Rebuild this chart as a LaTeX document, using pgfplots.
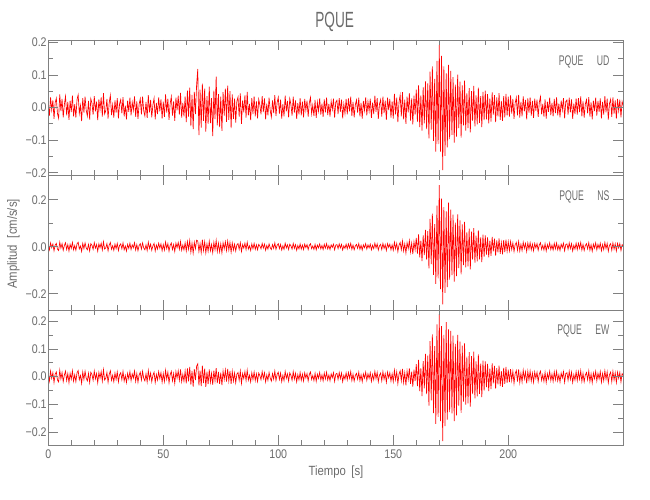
\documentclass[border=0pt]{standalone}
\usepackage{pgfplots}
\pgfplotsset{compat=1.18}
\usepackage{pgfplotstable}
\usepackage{fontspec}
\setmainfont[FakeStretch=0.85]{Liberation Sans}
\newfontfamily\narrowfont[FakeStretch=0.62]{Liberation Sans}
\definecolor{txt}{gray}{0.42}
\definecolor{axc}{gray}{0.5}

% UD component, one sample every 0.5 s from 0 s to 250 s
\pgfplotstableread[header=false,row sep=\\]{
0.012\\ -0.025\\ 0.031\\ -0.008\\ 0.022\\ -0.035\\ 0.015\\ 0.028\\ -0.019\\ -0.033\\ 0.040\\ -0.011\\ 0.026\\ -0.030\\ 0.009\\ 0.034\\ -0.024\\ 0.017\\ -0.038\\ 0.021\\
-0.014\\ 0.036\\ -0.027\\ 0.010\\ -0.031\\ 0.024\\ 0.039\\ -0.018\\ 0.006\\ -0.042\\ 0.029\\ -0.016\\ 0.033\\ -0.009\\ -0.026\\ 0.020\\ -0.037\\ 0.027\\ 0.013\\ -0.022\\
0.035\\ -0.012\\ 0.018\\ -0.039\\ 0.025\\ -0.007\\ 0.031\\ -0.028\\ 0.044\\ -0.020\\ -0.010\\ 0.026\\ -0.034\\ 0.015\\ 0.037\\ -0.023\\ 0.008\\ -0.031\\ 0.022\\ -0.016\\
0.029\\ -0.033\\ 0.011\\ 0.024\\ -0.018\\ 0.032\\ -0.027\\ 0.006\\ -0.036\\ 0.021\\ -0.013\\ 0.030\\ -0.024\\ 0.016\\ -0.008\\ 0.034\\ -0.029\\ 0.019\\ -0.035\\ 0.010\\
0.027\\ -0.021\\ 0.033\\ -0.010\\ -0.026\\ 0.017\\ -0.032\\ 0.038\\ -0.015\\ 0.023\\ -0.030\\ 0.008\\ 0.028\\ -0.036\\ 0.014\\ -0.020\\ 0.031\\ -0.012\\ 0.025\\ -0.034\\
0.018\\ -0.029\\ 0.040\\ -0.016\\ 0.027\\ -0.038\\ 0.012\\ 0.033\\ -0.025\\ 0.019\\ -0.041\\ 0.030\\ -0.009\\ 0.036\\ -0.022\\ 0.045\\ -0.031\\ 0.014\\ -0.027\\ 0.034\\
-0.045\\ 0.052\\ -0.028\\ 0.061\\ -0.057\\ 0.039\\ -0.066\\ 0.048\\ -0.020\\ 0.070\\ 0.118\\ -0.085\\ 0.055\\ -0.062\\ 0.073\\ -0.041\\ 0.058\\ -0.074\\ 0.035\\ -0.050\\
0.064\\ -0.048\\ 0.029\\ -0.088\\ 0.052\\ -0.036\\ 0.095\\ -0.055\\ 0.041\\ -0.060\\ 0.033\\ -0.072\\ 0.047\\ -0.025\\ 0.058\\ -0.044\\ 0.067\\ -0.038\\ 0.050\\ -0.063\\
0.040\\ -0.035\\ 0.027\\ -0.046\\ 0.019\\ 0.032\\ -0.028\\ 0.043\\ -0.050\\ 0.022\\ -0.015\\ 0.037\\ -0.031\\ 0.048\\ -0.024\\ 0.011\\ -0.039\\ 0.029\\ -0.020\\ 0.034\\
-0.027\\ 0.019\\ -0.033\\ 0.025\\ 0.008\\ -0.021\\ 0.035\\ -0.014\\ 0.028\\ -0.036\\ 0.012\\ -0.024\\ 0.030\\ -0.009\\ -0.029\\ 0.022\\ -0.017\\ 0.038\\ -0.026\\ 0.015\\
0.031\\ -0.019\\ 0.024\\ -0.034\\ 0.010\\ -0.027\\ 0.036\\ -0.012\\ 0.020\\ -0.030\\ 0.027\\ 0.009\\ -0.025\\ 0.033\\ -0.016\\ 0.022\\ -0.035\\ 0.013\\ -0.021\\ 0.029\\
-0.024\\ 0.018\\ -0.030\\ 0.026\\ -0.009\\ 0.021\\ -0.028\\ 0.014\\ 0.031\\ -0.019\\ 0.007\\ -0.026\\ 0.023\\ -0.032\\ 0.016\\ -0.011\\ 0.028\\ -0.022\\ 0.012\\ -0.029\\
0.025\\ -0.015\\ 0.030\\ -0.023\\ 0.011\\ -0.028\\ 0.019\\ -0.006\\ 0.027\\ -0.031\\ 0.016\\ 0.022\\ -0.020\\ 0.029\\ -0.013\\ 0.024\\ -0.033\\ 0.010\\ -0.018\\ 0.026\\
-0.021\\ 0.028\\ -0.012\\ 0.033\\ -0.026\\ 0.017\\ -0.030\\ 0.008\\ 0.023\\ -0.016\\ 0.030\\ -0.027\\ 0.014\\ -0.034\\ 0.020\\ -0.009\\ 0.031\\ -0.024\\ 0.018\\ -0.011\\
0.027\\ -0.032\\ 0.015\\ -0.020\\ 0.036\\ -0.013\\ 0.029\\ -0.035\\ 0.010\\ 0.024\\ -0.028\\ 0.033\\ -0.017\\ 0.021\\ -0.038\\ 0.030\\ -0.008\\ 0.026\\ -0.031\\ 0.019\\
-0.034\\ 0.042\\ -0.021\\ 0.030\\ -0.045\\ 0.016\\ 0.038\\ -0.027\\ 0.047\\ -0.036\\ 0.024\\ -0.050\\ 0.033\\ -0.015\\ 0.044\\ -0.040\\ 0.028\\ -0.052\\ 0.036\\ -0.022\\
0.055\\ -0.043\\ 0.068\\ -0.060\\ 0.037\\ -0.071\\ 0.062\\ -0.049\\ 0.080\\ -0.066\\
0.074\\ -0.095\\ 0.110\\ -0.068\\ 0.126\\ -0.102\\ 0.088\\ -0.135\\ 0.143\\ -0.112\\
0.192\\ -0.135\\ 0.158\\ -0.192\\ 0.126\\ -0.148\\ 0.105\\ -0.122\\ 0.131\\ -0.097\\
0.112\\ -0.084\\ 0.093\\ -0.108\\ 0.070\\ -0.089\\ 0.101\\ -0.063\\ 0.079\\ -0.092\\
0.068\\ -0.055\\ 0.082\\ -0.071\\ 0.044\\ -0.063\\ 0.059\\ -0.076\\ 0.050\\ -0.041\\ 0.066\\ -0.058\\ 0.037\\ -0.052\\ 0.061\\ -0.047\\ 0.035\\ -0.060\\ 0.048\\ -0.039\\
0.052\\ -0.036\\ 0.041\\ -0.049\\ 0.028\\ -0.043\\ 0.046\\ -0.022\\ 0.038\\ -0.045\\ 0.031\\ -0.027\\ 0.044\\ -0.038\\ 0.020\\ -0.041\\ 0.035\\ -0.030\\ 0.042\\ -0.025\\
0.033\\ -0.028\\ 0.037\\ -0.019\\ 0.026\\ -0.035\\ 0.014\\ 0.030\\ -0.024\\ 0.039\\ -0.031\\ 0.017\\ -0.027\\ 0.034\\ -0.012\\ 0.023\\ -0.036\\ 0.028\\ -0.016\\ 0.031\\
-0.025\\ 0.020\\ -0.032\\ 0.027\\ -0.010\\ 0.024\\ -0.029\\ 0.016\\ 0.033\\ -0.021\\ 0.011\\ -0.028\\ 0.025\\ -0.034\\ 0.018\\ -0.013\\ 0.030\\ -0.023\\ 0.014\\ -0.027\\
0.026\\ -0.017\\ 0.031\\ -0.024\\ 0.012\\ -0.030\\ 0.021\\ -0.008\\ 0.029\\ -0.033\\ 0.018\\ 0.023\\ -0.022\\ 0.030\\ -0.015\\ 0.025\\ -0.035\\ 0.012\\ -0.020\\ 0.028\\
-0.022\\ 0.029\\ -0.014\\ 0.034\\ -0.027\\ 0.019\\ -0.031\\ 0.010\\ 0.024\\ -0.018\\ 0.032\\ -0.028\\ 0.016\\ -0.036\\ 0.021\\ -0.011\\ 0.030\\ -0.025\\ 0.020\\ -0.013\\
0.028\\ -0.033\\ 0.017\\ -0.022\\ 0.035\\ -0.015\\ 0.027\\ -0.037\\ 0.012\\ 0.025\\ -0.029\\ 0.031\\ -0.019\\ 0.022\\ -0.034\\ 0.026\\ -0.010\\ 0.024\\ -0.030\\ 0.018\\
0.005\\
}\UD

% NS component
\pgfplotstableread[header=false,row sep=\\]{
0.008\\ -0.013\\ 0.016\\ -0.004\\ 0.011\\ -0.017\\ 0.007\\ 0.014\\ -0.010\\ -0.016\\ 0.019\\ -0.006\\ 0.013\\ -0.015\\ 0.005\\ 0.017\\ -0.012\\ 0.009\\ -0.018\\ 0.010\\
-0.007\\ 0.018\\ -0.013\\ 0.005\\ -0.015\\ 0.012\\ 0.019\\ -0.009\\ 0.003\\ -0.020\\ 0.014\\ -0.008\\ 0.016\\ -0.005\\ -0.013\\ 0.010\\ -0.018\\ 0.013\\ 0.006\\ -0.011\\
0.017\\ -0.006\\ 0.009\\ -0.019\\ 0.012\\ -0.004\\ 0.015\\ -0.014\\ 0.021\\ -0.010\\ -0.005\\ 0.013\\ -0.017\\ 0.008\\ 0.018\\ -0.011\\ 0.004\\ -0.015\\ 0.011\\ -0.008\\
0.014\\ -0.016\\ 0.006\\ 0.012\\ -0.009\\ 0.016\\ -0.013\\ 0.003\\ -0.018\\ 0.010\\ -0.007\\ 0.015\\ -0.012\\ 0.008\\ -0.004\\ 0.017\\ -0.014\\ 0.009\\ -0.017\\ 0.005\\
0.013\\ -0.010\\ 0.016\\ -0.005\\ -0.013\\ 0.008\\ -0.016\\ 0.019\\ -0.007\\ 0.011\\ -0.015\\ 0.004\\ 0.014\\ -0.018\\ 0.007\\ -0.010\\ 0.015\\ -0.006\\ 0.012\\ -0.017\\
0.009\\ -0.014\\ 0.020\\ -0.008\\ 0.013\\ -0.019\\ 0.006\\ 0.016\\ -0.012\\ 0.009\\ -0.020\\ 0.015\\ -0.004\\ 0.018\\ -0.011\\ 0.022\\ -0.015\\ 0.007\\ -0.013\\ 0.017\\
-0.018\\ 0.022\\ -0.011\\ 0.026\\ -0.023\\ 0.015\\ -0.027\\ 0.019\\ -0.008\\ 0.028\\ 0.024\\ -0.020\\ 0.013\\ -0.025\\ 0.030\\ -0.016\\ 0.021\\ -0.026\\ 0.012\\ -0.019\\
0.023\\ -0.017\\ 0.010\\ -0.025\\ 0.019\\ -0.013\\ 0.027\\ -0.020\\ 0.015\\ -0.022\\ 0.012\\ -0.026\\ 0.017\\ -0.009\\ 0.021\\ -0.016\\ 0.024\\ -0.014\\ 0.018\\ -0.023\\
0.016\\ -0.014\\ 0.011\\ -0.018\\ 0.008\\ 0.013\\ -0.011\\ 0.017\\ -0.020\\ 0.009\\ -0.006\\ 0.015\\ -0.012\\ 0.019\\ -0.010\\ 0.004\\ -0.016\\ 0.012\\ -0.008\\ 0.014\\
-0.011\\ 0.008\\ -0.013\\ 0.010\\ 0.003\\ -0.009\\ 0.014\\ -0.006\\ 0.011\\ -0.015\\ 0.005\\ -0.010\\ 0.012\\ -0.004\\ -0.012\\ 0.009\\ -0.007\\ 0.016\\ -0.011\\ 0.006\\
0.013\\ -0.008\\ 0.010\\ -0.014\\ 0.004\\ -0.011\\ 0.015\\ -0.005\\ 0.008\\ -0.012\\ 0.011\\ 0.004\\ -0.010\\ 0.014\\ -0.007\\ 0.009\\ -0.015\\ 0.005\\ -0.009\\ 0.012\\
-0.010\\ 0.007\\ -0.012\\ 0.011\\ -0.004\\ 0.009\\ -0.012\\ 0.006\\ 0.013\\ -0.008\\ 0.003\\ -0.011\\ 0.010\\ -0.013\\ 0.007\\ -0.005\\ 0.012\\ -0.009\\ 0.005\\ -0.012\\
0.010\\ -0.006\\ 0.013\\ -0.009\\ 0.005\\ -0.012\\ 0.008\\ -0.003\\ 0.011\\ -0.013\\ 0.007\\ 0.009\\ -0.008\\ 0.012\\ -0.005\\ 0.010\\ -0.014\\ 0.004\\ -0.007\\ 0.011\\
-0.009\\ 0.012\\ -0.005\\ 0.014\\ -0.011\\ 0.007\\ -0.013\\ 0.003\\ 0.010\\ -0.007\\ 0.013\\ -0.011\\ 0.006\\ -0.014\\ 0.008\\ -0.004\\ 0.013\\ -0.010\\ 0.008\\ -0.005\\
0.011\\ -0.013\\ 0.006\\ -0.008\\ 0.015\\ -0.005\\ 0.012\\ -0.014\\ 0.004\\ 0.010\\ -0.012\\ 0.014\\ -0.007\\ 0.009\\ -0.016\\ 0.013\\ -0.003\\ 0.011\\ -0.013\\ 0.008\\
-0.015\\ 0.019\\ -0.009\\ 0.014\\ -0.021\\ 0.007\\ 0.018\\ -0.013\\ 0.024\\ -0.018\\ 0.012\\ -0.027\\ 0.017\\ -0.008\\ 0.026\\ -0.022\\ 0.015\\ -0.031\\ 0.021\\ -0.013\\
0.038\\ -0.029\\ 0.052\\ -0.045\\ 0.026\\ -0.061\\ 0.048\\ -0.036\\ 0.072\\ -0.055\\
0.066\\ -0.092\\ 0.118\\ -0.074\\ 0.141\\ -0.120\\ 0.096\\ -0.158\\ 0.175\\ -0.134\\
0.262\\ -0.180\\ 0.205\\ -0.245\\ 0.168\\ -0.196\\ 0.150\\ -0.172\\ 0.188\\ -0.140\\
0.158\\ -0.121\\ 0.136\\ -0.148\\ 0.102\\ -0.125\\ 0.138\\ -0.091\\ 0.112\\ -0.117\\
0.095\\ -0.078\\ 0.106\\ -0.088\\ 0.062\\ -0.084\\ 0.077\\ -0.096\\ 0.064\\ -0.055\\ 0.079\\ -0.068\\ 0.047\\ -0.062\\ 0.070\\ -0.054\\ 0.040\\ -0.065\\ 0.051\\ -0.043\\
0.048\\ -0.033\\ 0.040\\ -0.045\\ 0.026\\ -0.039\\ 0.042\\ -0.020\\ 0.034\\ -0.038\\ 0.027\\ -0.024\\ 0.035\\ -0.030\\ 0.017\\ -0.032\\ 0.028\\ -0.023\\ 0.030\\ -0.019\\
0.021\\ -0.017\\ 0.022\\ -0.012\\ 0.016\\ -0.020\\ 0.009\\ 0.018\\ -0.015\\ 0.022\\ -0.018\\ 0.010\\ -0.016\\ 0.019\\ -0.007\\ 0.014\\ -0.020\\ 0.016\\ -0.010\\ 0.017\\
-0.013\\ 0.011\\ -0.017\\ 0.014\\ -0.005\\ 0.013\\ -0.015\\ 0.008\\ 0.017\\ -0.011\\ 0.006\\ -0.014\\ 0.013\\ -0.018\\ 0.009\\ -0.007\\ 0.016\\ -0.012\\ 0.007\\ -0.014\\
0.014\\ -0.009\\ 0.016\\ -0.013\\ 0.006\\ -0.016\\ 0.011\\ -0.004\\ 0.015\\ -0.017\\ 0.009\\ 0.012\\ -0.011\\ 0.016\\ -0.008\\ 0.013\\ -0.018\\ 0.006\\ -0.010\\ 0.015\\
-0.012\\ 0.015\\ -0.007\\ 0.018\\ -0.014\\ 0.010\\ -0.016\\ 0.005\\ 0.013\\ -0.009\\ 0.017\\ -0.015\\ 0.008\\ -0.019\\ 0.011\\ -0.006\\ 0.016\\ -0.013\\ 0.010\\ -0.007\\
0.015\\ -0.017\\ 0.009\\ -0.012\\ 0.018\\ -0.008\\ 0.014\\ -0.019\\ 0.006\\ 0.013\\ -0.015\\ 0.016\\ -0.010\\ 0.012\\ -0.018\\ 0.014\\ -0.005\\ 0.013\\ -0.016\\ 0.009\\
0.003\\
}\NS

% EW component
\pgfplotstableread[header=false,row sep=\\]{
0.010\\ -0.016\\ 0.020\\ -0.006\\ 0.014\\ -0.021\\ 0.009\\ 0.017\\ -0.012\\ -0.019\\ 0.023\\ -0.008\\ 0.015\\ -0.018\\ 0.006\\ 0.020\\ -0.014\\ 0.011\\ -0.022\\ 0.012\\
-0.009\\ 0.021\\ -0.016\\ 0.007\\ -0.018\\ 0.014\\ 0.022\\ -0.011\\ 0.004\\ -0.024\\ 0.017\\ -0.010\\ 0.019\\ -0.006\\ -0.015\\ 0.012\\ -0.021\\ 0.016\\ 0.008\\ -0.013\\
0.020\\ -0.008\\ 0.011\\ -0.022\\ 0.015\\ -0.005\\ 0.018\\ -0.016\\ 0.025\\ -0.012\\ -0.006\\ 0.015\\ -0.020\\ 0.009\\ 0.021\\ -0.013\\ 0.005\\ -0.018\\ 0.013\\ -0.010\\
0.017\\ -0.019\\ 0.007\\ 0.014\\ -0.011\\ 0.019\\ -0.016\\ 0.004\\ -0.021\\ 0.012\\ -0.008\\ 0.018\\ -0.014\\ 0.010\\ -0.005\\ 0.020\\ -0.017\\ 0.011\\ -0.020\\ 0.006\\
0.016\\ -0.012\\ 0.019\\ -0.006\\ -0.015\\ 0.010\\ -0.019\\ 0.022\\ -0.009\\ 0.013\\ -0.018\\ 0.005\\ 0.016\\ -0.021\\ 0.008\\ -0.012\\ 0.018\\ -0.007\\ 0.014\\ -0.020\\
0.011\\ -0.017\\ 0.023\\ -0.009\\ 0.016\\ -0.022\\ 0.007\\ 0.019\\ -0.015\\ 0.011\\ -0.024\\ 0.018\\ -0.005\\ 0.021\\ -0.013\\ 0.026\\ -0.018\\ 0.008\\ -0.016\\ 0.020\\
-0.024\\ 0.030\\ -0.017\\ 0.035\\ -0.029\\ 0.021\\ -0.036\\ 0.027\\ -0.012\\ 0.038\\ 0.046\\ -0.031\\ 0.022\\ -0.034\\ 0.040\\ -0.023\\ 0.029\\ -0.037\\ 0.018\\ -0.027\\
0.026\\ -0.020\\ 0.012\\ -0.029\\ 0.022\\ -0.015\\ 0.031\\ -0.023\\ 0.017\\ -0.026\\ 0.014\\ -0.030\\ 0.020\\ -0.010\\ 0.024\\ -0.018\\ 0.028\\ -0.016\\ 0.021\\ -0.026\\
0.019\\ -0.016\\ 0.013\\ -0.022\\ 0.009\\ 0.015\\ -0.013\\ 0.020\\ -0.024\\ 0.011\\ -0.007\\ 0.018\\ -0.014\\ 0.023\\ -0.012\\ 0.005\\ -0.019\\ 0.014\\ -0.010\\ 0.017\\
-0.014\\ 0.010\\ -0.017\\ 0.013\\ 0.004\\ -0.011\\ 0.018\\ -0.007\\ 0.014\\ -0.019\\ 0.006\\ -0.013\\ 0.015\\ -0.005\\ -0.016\\ 0.011\\ -0.009\\ 0.020\\ -0.014\\ 0.008\\
0.016\\ -0.010\\ 0.013\\ -0.018\\ 0.005\\ -0.014\\ 0.019\\ -0.006\\ 0.010\\ -0.016\\ 0.014\\ 0.005\\ -0.013\\ 0.018\\ -0.009\\ 0.012\\ -0.019\\ 0.007\\ -0.011\\ 0.015\\
-0.013\\ 0.009\\ -0.016\\ 0.014\\ -0.005\\ 0.011\\ -0.015\\ 0.008\\ 0.017\\ -0.010\\ 0.004\\ -0.014\\ 0.012\\ -0.017\\ 0.009\\ -0.006\\ 0.015\\ -0.012\\ 0.006\\ -0.015\\
0.013\\ -0.008\\ 0.016\\ -0.012\\ 0.006\\ -0.015\\ 0.010\\ -0.004\\ 0.014\\ -0.017\\ 0.009\\ 0.012\\ -0.010\\ 0.015\\ -0.007\\ 0.013\\ -0.018\\ 0.005\\ -0.009\\ 0.014\\
-0.011\\ 0.015\\ -0.006\\ 0.018\\ -0.014\\ 0.009\\ -0.016\\ 0.004\\ 0.012\\ -0.009\\ 0.016\\ -0.014\\ 0.007\\ -0.018\\ 0.010\\ -0.005\\ 0.016\\ -0.013\\ 0.010\\ -0.006\\
0.014\\ -0.017\\ 0.008\\ -0.011\\ 0.019\\ -0.007\\ 0.015\\ -0.018\\ 0.005\\ 0.013\\ -0.015\\ 0.018\\ -0.009\\ 0.011\\ -0.020\\ 0.016\\ -0.004\\ 0.014\\ -0.016\\ 0.010\\
-0.018\\ 0.023\\ -0.011\\ 0.017\\ -0.025\\ 0.009\\ 0.021\\ -0.015\\ 0.028\\ -0.021\\ 0.014\\ -0.031\\ 0.020\\ -0.010\\ 0.030\\ -0.026\\ 0.018\\ -0.036\\ 0.025\\ -0.016\\
0.045\\ -0.034\\ 0.060\\ -0.052\\ 0.031\\ -0.070\\ 0.056\\ -0.042\\ 0.082\\ -0.063\\
0.076\\ -0.104\\ 0.128\\ -0.085\\ 0.152\\ -0.131\\ 0.110\\ -0.170\\ 0.188\\ -0.145\\
0.225\\ -0.160\\ 0.182\\ -0.232\\ 0.150\\ -0.178\\ 0.196\\ -0.155\\ 0.170\\ -0.128\\
0.165\\ -0.132\\ 0.148\\ -0.160\\ 0.118\\ -0.139\\ 0.150\\ -0.104\\ 0.126\\ -0.130\\
0.112\\ -0.090\\ 0.120\\ -0.101\\ 0.072\\ -0.096\\ 0.088\\ -0.108\\ 0.074\\ -0.063\\ 0.090\\ -0.078\\ 0.055\\ -0.071\\ 0.080\\ -0.062\\ 0.047\\ -0.074\\ 0.058\\ -0.050\\
0.055\\ -0.038\\ 0.046\\ -0.052\\ 0.030\\ -0.045\\ 0.048\\ -0.024\\ 0.039\\ -0.043\\ 0.031\\ -0.028\\ 0.040\\ -0.034\\ 0.020\\ -0.037\\ 0.032\\ -0.026\\ 0.035\\ -0.022\\
0.025\\ -0.020\\ 0.027\\ -0.014\\ 0.019\\ -0.024\\ 0.011\\ 0.022\\ -0.018\\ 0.026\\ -0.021\\ 0.012\\ -0.019\\ 0.023\\ -0.008\\ 0.017\\ -0.024\\ 0.019\\ -0.012\\ 0.020\\
-0.016\\ 0.013\\ -0.020\\ 0.017\\ -0.006\\ 0.016\\ -0.018\\ 0.010\\ 0.020\\ -0.013\\ 0.007\\ -0.017\\ 0.016\\ -0.021\\ 0.011\\ -0.008\\ 0.019\\ -0.014\\ 0.009\\ -0.017\\
0.017\\ -0.011\\ 0.019\\ -0.015\\ 0.007\\ -0.019\\ 0.013\\ -0.005\\ 0.018\\ -0.020\\ 0.011\\ 0.014\\ -0.013\\ 0.019\\ -0.010\\ 0.016\\ -0.021\\ 0.007\\ -0.012\\ 0.018\\
-0.014\\ 0.018\\ -0.009\\ 0.021\\ -0.017\\ 0.012\\ -0.019\\ 0.006\\ 0.015\\ -0.011\\ 0.020\\ -0.018\\ 0.010\\ -0.022\\ 0.013\\ -0.007\\ 0.019\\ -0.015\\ 0.012\\ -0.008\\
0.018\\ -0.020\\ 0.011\\ -0.014\\ 0.021\\ -0.009\\ 0.017\\ -0.022\\ 0.007\\ 0.016\\ -0.018\\ 0.019\\ -0.012\\ 0.014\\ -0.021\\ 0.016\\ -0.006\\ 0.015\\ -0.019\\ 0.011\\
0.004\\
}\EW

\pgfplotsset{
  seis/.style={
    scale only axis, width=431.25pt, height=101.25pt,
    xmin=0, xmax=250,
    xtick={0,50,100,150,200}, minor x tick num=4,
    xticklabels={},
    axis line style={axc, line width=0.6pt},
    tick style={axc, line width=0.5pt},
    major tick length=7.5pt, minor tick length=3.75pt,
    tick align=inside,
    ticklabel style={font=\fontsize{9.4}{11}\selectfont, text=txt},
    yticklabel style={inner xsep=1pt},
    axis on top,
  },
  trace/.style={red, line width=0.5pt, no markers},
}

\begin{document}
\begin{tikzpicture}
\useasboundingbox (0,0) rectangle (487.5pt,375pt);

\begin{axis}[seis, at={(36.2pt,345pt)}, anchor=north west,
  ymin=-0.207, ymax=0.207,
  ytick={-0.2,-0.1,0,0.1,0.2}, yticklabels={−0.2,−0.1,0.0,0.1,0.2},
  minor y tick num=1]
\addplot[trace] table[x expr=\coordindex*0.5, y index=0] {\UD};
\node[anchor=east, font=\narrowfont\fontsize{10.5}{12}\selectfont, text=txt]
  at (rel axis cs:0.984,0.837) {PQUE\hspace{10pt}UD};
\end{axis}

\begin{axis}[seis, at={(36.2pt,243.75pt)}, anchor=north west,
  ymin=-0.269, ymax=0.305,
  ytick={-0.2,0,0.2}, yticklabels={−0.2,0.0,0.2},
  minor y tick num=1]
\addplot[trace] table[x expr=\coordindex*0.5, y index=0] {\NS};
\node[anchor=east, font=\narrowfont\fontsize{10.5}{12}\selectfont, text=txt]
  at (rel axis cs:0.984,0.837) {PQUE\hspace{10pt}NS};
\end{axis}

\begin{axis}[seis, at={(36.2pt,142.5pt)}, anchor=north west,
  ymin=-0.246, ymax=0.240,
  ytick={-0.2,-0.1,0,0.1,0.2}, yticklabels={−0.2,−0.1,0.0,0.1,0.2},
  minor y tick num=1,
  xticklabels={0,50,100,150,200}]
\addplot[trace] table[x expr=\coordindex*0.5, y index=0] {\EW};
\node[anchor=east, font=\narrowfont\fontsize{10.5}{12}\selectfont, text=txt]
  at (rel axis cs:0.984,0.845) {PQUE\hspace{10pt}EW};
\end{axis}

\node[rotate=90, text=txt, font=\fontsize{10}{12}\selectfont] at (10pt,192pt) {Amplitud\hspace{5pt}[cm/s/s]};
\node[text=txt, font=\fontsize{10}{12}\selectfont] at (252pt,21.25pt) {Tiempo\hspace{4pt}[s]};
\node[text=txt, font=\narrowfont\fontsize{16.5}{18}\selectfont] at (251pt,358.6pt) {PQUE};
\end{tikzpicture}
\end{document}
